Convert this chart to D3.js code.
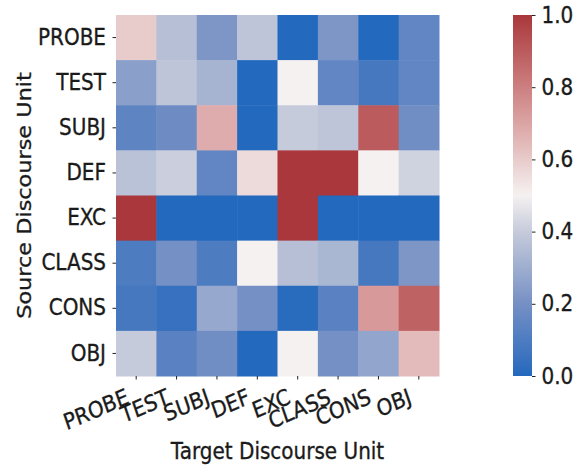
<!DOCTYPE html>
<html>
<head>
<meta charset="utf-8">
<script src="https://cdn.jsdelivr.net/npm/d3@7"></script>
<style>
  body { margin: 0; background: #fff; }
  text { font-family: "DejaVu Sans", sans-serif; fill: #1a1a1a; stroke: #1a1a1a; stroke-width: 0.3px; }
</style>
</head>
<body>
<script>
var w = 583;
var h = 468;
var sy = 1.12; // the figure is a little taller than wide

var units = ["PROBE", "TEST", "SUBJ", "DEF", "EXC", "CLASS", "CONS", "OBJ"];
// rows = source, columns = target
var probeRow = [0.60, 0.36, 0.22, 0.38, 0.0, 0.22, 0.0, 0.15];
var testRow  = [0.25, 0.38, 0.32, 0.0, 0.50, 0.15, 0.08, 0.15];
var subjRow  = [0.14, 0.18, 0.68, 0.0, 0.40, 0.38, 0.90, 0.19];
var defRow   = [0.37, 0.41, 0.15, 0.56, 1.0, 1.0, 0.50, 0.42];
var excRow   = [1.0, 0.0, 0.0, 0.0, 1.0, 0.0, 0.0, 0.0];
var classRow = [0.10, 0.20, 0.10, 0.50, 0.36, 0.33, 0.08, 0.22];
var consRow  = [0.08, 0.04, 0.28, 0.20, 0.01, 0.13, 0.73, 0.88];
var objRow   = [0.40, 0.13, 0.19, 0.0, 0.50, 0.20, 0.27, 0.64];
var rows = [probeRow, testRow, subjRow, defRow, excRow, classRow, consRow, objRow];
var cbarTicks = [0.0, 0.2, 0.4, 0.6, 0.8, 1.0];

var mLeft = 116, mRight = 439, mTop = 15, mBottom = 376;

var svg = d3.select("body").append("svg")
            .attr("width", w)
            .attr("height", h);

// approximation of seaborn "vlag"
var vlagStops = ["#2369bd", "#4d7cc1", "#7590c4", "#9eaecf", "#c6cbdb", "#f5f1f1",
                 "#e8cbcb", "#dba4a4", "#cc7f80", "#bb5b5d", "#a9373b"];
var color = d3.scaleLinear()
  .domain(d3.range(vlagStops.length).map(function (i) { return i / (vlagStops.length - 1); }))
  .range(vlagStops)
  .interpolate(d3.interpolateLab)
  .clamp(true);

var x = d3.scaleBand().domain(units).range([mLeft, mRight]);
var y = d3.scaleBand().domain(units).range([mTop, mBottom]);

var cells = [];
rows.forEach(function (r, i) {
  r.forEach(function (v, j) { cells.push({src: units[i], tgt: units[j], v: v}); });
});

svg.append("g").selectAll("rect")
  .data(cells)
  .enter()
  .append("rect")
  .attr("x", function (d) { return x(d.tgt); })
  .attr("y", function (d) { return y(d.src); })
  .attr("width", x.bandwidth() + 0.5)
  .attr("height", y.bandwidth() + 0.5)
  .attr("fill", function (d) { return color(d.v); });

// stretch texts vertically around their anchor
function stretch(sel, dx, dy, rot) {
  sel.attr("x", 0).attr("y", 0)
    .attr("transform", "translate(" + dx + "," + dy + ") scale(1," + sy + ") rotate(" + rot + ")");
}

// y axis
var yAxis = svg.append("g")
  .attr("transform", "translate(" + mLeft + ",0)")
  .call(d3.axisLeft(y).tickSize(3.5).tickPadding(6));
yAxis.select(".domain").remove();
yAxis.selectAll("line").attr("stroke", "#222").attr("stroke-width", 1);
yAxis.selectAll("text").style("font-size", "20px").attr("fill", "#1a1a1a")
  .call(stretch, -10, 0, 0);

// x axis
var xAxis = svg.append("g")
  .attr("transform", "translate(0," + mBottom + ")")
  .call(d3.axisBottom(x).tickSize(3.5));
xAxis.select(".domain").remove();
xAxis.selectAll("line").attr("stroke", "#222").attr("stroke-width", 1);
xAxis.selectAll("text")
  .style("font-size", "20px")
  .attr("fill", "#1a1a1a")
  .attr("dy", null)
  .attr("text-anchor", "end")
  .call(stretch, -6, 27, -21);

svg.append("text")
  .attr("text-anchor", "middle")
  .style("font-size", "20px")
  .text("Target Discourse Unit")
  .call(stretch, (mLeft + mRight) / 2, 459, 0);

svg.append("text")
  .attr("text-anchor", "middle")
  .style("font-size", "20px")
  .text("Source Discourse Unit")
  .call(stretch, 31, (mTop + mBottom) / 2, -90);

// colorbar
var cbX = 513, cbW = 19;
var cScale = d3.scaleLinear().domain([0, 1]).range([mBottom, mTop]);
var defs = svg.append("defs");
var grad = defs.append("linearGradient")
  .attr("id", "vlag")
  .attr("x1", 0).attr("y1", 1).attr("x2", 0).attr("y2", 0);
grad.selectAll("stop")
  .data(d3.range(0, 1.0001, 0.05))
  .enter()
  .append("stop")
  .attr("offset", function (d) { return d; })
  .attr("stop-color", function (d) { return color(d); });

svg.append("rect")
  .attr("x", cbX)
  .attr("y", mTop)
  .attr("width", cbW)
  .attr("height", mBottom - mTop)
  .attr("fill", "url(#vlag)");

var cAxis = svg.append("g")
  .attr("transform", "translate(" + (cbX + cbW) + ",0)")
  .call(d3.axisRight(cScale).tickValues(cbarTicks).tickFormat(d3.format(".1f")).tickSize(3.5).tickPadding(6));
cAxis.select(".domain").remove();
cAxis.selectAll("line").attr("stroke", "#222").attr("stroke-width", 1);
cAxis.selectAll("text").style("font-size", "20px").attr("fill", "#1a1a1a")
  .call(stretch, 9.5, 0, 0);
</script>
</body>
</html>
